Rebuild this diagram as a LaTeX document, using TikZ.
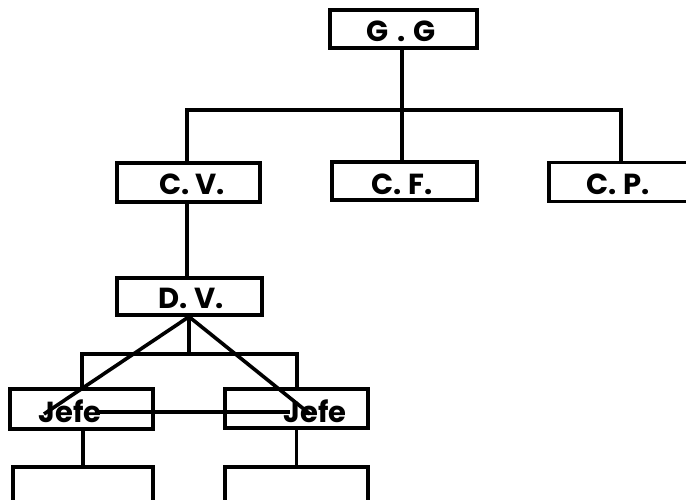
\documentclass[tikz,border=0pt]{standalone}
\usepackage{fontspec}
\setmainfont{Poppins}
\begin{document}
\begin{tikzpicture}[x=1pt,y=-1pt,
  box/.style={draw,line width=3.4pt,rectangle,inner sep=0pt,minimum width=#1,minimum height=39pt},
  box/.default=144pt,
  lbl/.style={font=\fontsize{29}{29}\selectfont\bfseries,inner sep=0pt,anchor=center},
  wire/.style={line width=3.6pt}]
\useasboundingbox (0,0) rectangle (686,499);
\clip (0,0) rectangle (686,499);
% boxes
\node[box=147pt,minimum height=38pt] (gg) at (403.5,29) {};
\node[box=143pt] (cv) at (188.5,182.5) {};
\node[box=145pt,minimum height=38pt] (cf) at (404.5,181) {};
\node[box=150pt] (cp) at (624,182) {};
\node[box=145pt,minimum height=37pt] (dv) at (189.5,296.5) {};
\node[box=143pt,minimum height=40pt] (j1) at (81.5,409) {};
\node[box=143pt] (j2) at (296.5,408.5) {};
\node[box=140pt,minimum height=46pt] (b1) at (83,490) {};
\node[box=143pt,minimum height=46pt] (b2) at (296.5,490) {};
% labels
\node[lbl] (tgg) at (401,31) {G\hspace{0.3em}.\hspace{0.25em}G};
\node[lbl] (tcv) at (192,184) {C. V.};
\node[lbl] (tcf) at (402,184) {C. F.};
\node[lbl] (tcp) at (618,184) {C. P.};
\node[lbl] (tdv) at (191,298) {D. V.};
\node[lbl] (tj1) at (70,411) {Jefe};
\node[lbl] (tj2) at (315,411) {Jefe};
% connector points
\coordinate (busL) at (187,110);
\coordinate (busM) at (402,110);
\coordinate (busR) at (621,110);
\coordinate (dvbus) at (189,354);
\coordinate (jbL) at (82,354);
\coordinate (jbR) at (297,354);
\coordinate (dL) at (44,414);
\coordinate (dR) at (310,414);
\coordinate (hL) at (97,412);
\coordinate (hR) at (290,412);
% connectors
\draw[wire] (gg.south -| busM) -- (busM);
\draw[wire] (cv.north -| busL) -- (busL) -- (busR) -- (cp.north -| busR);
\draw[wire] (busM) -- (cf.north -| busM);
\draw[wire] (cv.south -| busL) -- (dv.north -| busL);
\draw[wire] (dv.south -| dvbus) -- (dvbus);
\draw[wire] (j1.north -| jbL) -- (jbL) -- (jbR) -- (j2.north -| jbR);
\draw[wire] (dv.south -| dvbus) -- (dL);
\draw[wire] (dv.south -| dvbus) -- (dR);
\draw[wire] (hL) -- (hR);
\draw[wire] (j1.south -| b1.north) -- (b1.north);
\draw[wire] (j2.south -| b2.north) -- (b2.north);
\end{tikzpicture}
\end{document}
